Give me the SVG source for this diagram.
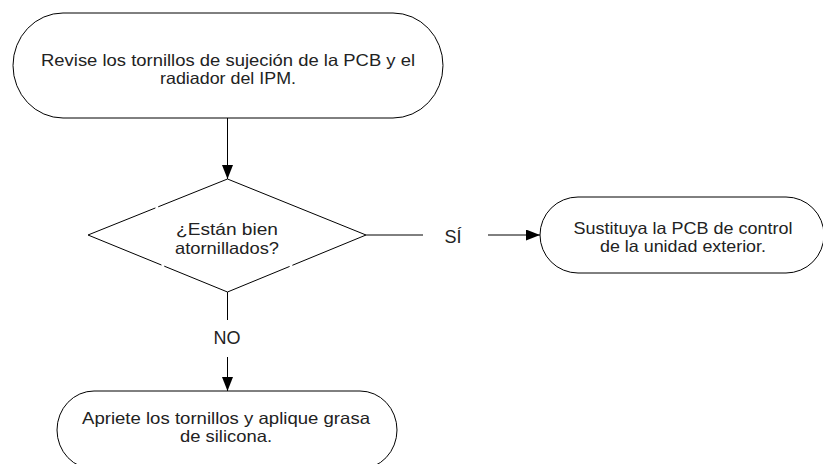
<svg xmlns="http://www.w3.org/2000/svg" width="823" height="464" viewBox="0 0 823 464">
<defs>
<style>
.shape{fill:none;stroke:#000;stroke-width:1}
.line{fill:none;stroke:#000;stroke-width:1}
.t{font-family:"Liberation Sans",Arial,Helvetica,sans-serif;font-size:16.5px;fill:#222;text-anchor:middle}
.lbl{font-family:"Liberation Sans",Arial,Helvetica,sans-serif;font-size:18px;fill:#222;text-anchor:middle}
</style>
<marker id="arr" viewBox="0 0 14 11" refX="14" refY="5.5" markerWidth="14" markerHeight="11" markerUnits="userSpaceOnUse" orient="auto">
<path d="M0,0 L14,5.5 L0,11 Z" fill="#000"/>
</marker>
</defs>
<rect width="823" height="464" fill="#fff"/>
<g id="connectors">
<line class="line" x1="227.5" y1="118" x2="227.5" y2="179" marker-end="url(#arr)"/>
<line class="line" x1="366" y1="235" x2="423" y2="235"/>
<line class="line" x1="488" y1="235" x2="540" y2="235" marker-end="url(#arr)"/>
<line class="line" x1="227.5" y1="292" x2="227.5" y2="320"/>
<line class="line" x1="227.5" y1="357" x2="227.5" y2="391" marker-end="url(#arr)"/>
<text class="lbl" x="453" y="243">SÍ</text>
<text class="lbl" x="227" y="344">NO</text>
</g>
<g id="start">
<path class="shape" d="M63,13 H393 A50,52.5 0 0 1 393,118 H63 A50,52.5 0 0 1 63,13 Z"/>
<text class="t" x="228" y="65.5" textLength="374" lengthAdjust="spacingAndGlyphs">Revise los tornillos de sujeción de la PCB y el</text>
<text class="t" x="228" y="84" textLength="136" lengthAdjust="spacingAndGlyphs">radiador del IPM.</text>
</g>
<g id="decision">
<path class="shape" d="M227.5,179 L366,235 L227.5,292 L88,235 Z" stroke-dasharray="229 3 135.5 3 152 3 80"/>
<text class="t" x="227" y="235" textLength="102" lengthAdjust="spacingAndGlyphs">¿Están bien</text>
<text class="t" x="227" y="253.5" textLength="104" lengthAdjust="spacingAndGlyphs">atornillados?</text>
</g>
<g id="replace">
<path class="shape" d="M578,197 H786 A38,38 0 0 1 786,273 H578 A38,38 0 0 1 578,197 Z"/>
<text class="t" x="683" y="233.5" textLength="219" lengthAdjust="spacingAndGlyphs">Sustituya la PCB de control</text>
<text class="t" x="683" y="252" textLength="166" lengthAdjust="spacingAndGlyphs">de la unidad exterior.</text>
</g>
<g id="tighten">
<path class="shape" d="M94,391 H360 A37,39 0 0 1 360,469 H94 A37,39 0 0 1 94,391 Z"/>
<text class="t" x="226" y="423.5" textLength="288" lengthAdjust="spacingAndGlyphs">Apriete los tornillos y aplique grasa</text>
<text class="t" x="226" y="442" textLength="92" lengthAdjust="spacingAndGlyphs">de silicona.</text>
</g>
</svg>
